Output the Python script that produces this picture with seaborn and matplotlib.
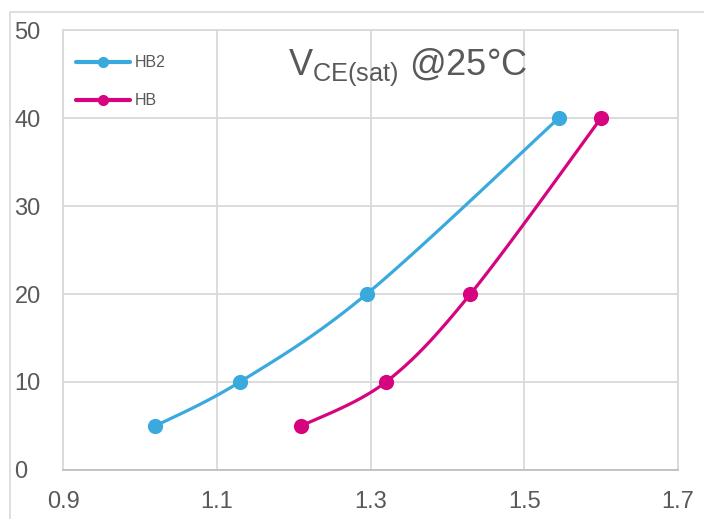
import numpy as np
import pandas as pd
import matplotlib
matplotlib.use("Agg")
import matplotlib.pyplot as plt
from matplotlib.lines import Line2D
from matplotlib.patches import Rectangle
import seaborn as sns

# Collector-emitter saturation voltage (V) vs collector current (A)
hb2_vce = [1.02, 1.13, 1.295, 1.545]
hb2_ic = [5, 10, 20, 40]
hb_vce = [1.21, 1.32, 1.43, 1.60]
hb_ic = [5, 10, 20, 40]
x_ticks = [0.9, 1.1, 1.3, 1.5, 1.7]
y_ticks = [0, 10, 20, 30, 40, 50]

BLUE = "#3AA9DD"
MAGENTA = "#D6047F"
GRID = "#D9D9D9"
TEXT = "#595959"


def smooth_curve(xs, ys, n=40):
    """Catmull-Rom style cubic Bezier through the points (spreadsheet 'smoothed line')."""
    p = np.column_stack([xs, ys]).astype(float)
    ext = np.vstack([p[0], p, p[-1]])
    out = []
    t = np.linspace(0, 1, n)[:, None]
    for i in range(1, len(ext) - 2):
        p0, p1, p2, p3 = ext[i - 1], ext[i], ext[i + 1], ext[i + 2]
        c1 = p1 + (p2 - p0) / 6.0
        c2 = p2 - (p3 - p1) / 6.0
        seg = ((1 - t) ** 3) * p1 + 3 * ((1 - t) ** 2) * t * c1 + 3 * (1 - t) * t ** 2 * c2 + t ** 3 * p2
        out.append(seg if i == 1 else seg[1:])
    s = np.vstack(out)
    return s[:, 0], s[:, 1]


sns.set_theme(style="white")
plt.rcParams["font.family"] = ["Liberation Sans", "DejaVu Sans"]

fig = plt.figure(figsize=(7.04, 5.19), dpi=100)
fig.patches.append(Rectangle((10 / 704, -0.1), 1.2, 1 - 12 / 519 + 0.1,
                             transform=fig.transFigure, fill=False,
                             edgecolor=GRID, linewidth=1.2))
ax = fig.add_axes([63 / 704, 1 - 470 / 519, (678 - 63) / 704, (470 - 30) / 519])

series = [("HB2", hb2_vce, hb2_ic, BLUE), ("HB", hb_vce, hb_ic, MAGENTA)]
for name, xs, ys, col in series:
    sx, sy = smooth_curve(xs, ys)
    curve = pd.DataFrame({"x": sx, "y": sy})
    sns.lineplot(data=curve, x="x", y="y", ax=ax, color=col, linewidth=2.3,
                 sort=False, estimator=None, zorder=3)
    pts = pd.DataFrame({"x": xs, "y": ys})
    sns.scatterplot(data=pts, x="x", y="y", ax=ax, color=col, s=120,
                    edgecolor=col, linewidth=0, zorder=4)

ax.set_xlim(0.9, 1.7)
ax.set_ylim(0, 50)
ax.set_xticks(x_ticks)
ax.set_yticks(y_ticks)
ax.set_xticklabels([f"{v:g}" for v in x_ticks])
ax.set_yticklabels([str(v) for v in y_ticks])
ax.set_xlabel("")
ax.set_ylabel("")
ax.grid(True, color=GRID, linewidth=1.3)
ax.set_axisbelow(True)
for side in ["top", "right", "left"]:
    ax.spines[side].set_color(GRID)
    ax.spines[side].set_linewidth(1.3)
ax.spines["bottom"].set_color("#BFBFBF")
ax.spines["bottom"].set_linewidth(1.3)
ax.tick_params(axis="both", length=0, labelcolor=TEXT, labelsize=17)
ax.tick_params(axis="x", pad=15)
ax.tick_params(axis="y", pad=35)
for lbl in ax.get_yticklabels():
    lbl.set_horizontalalignment("left")

ax.text(0.561, 0.915, r"V$_{\mathregular{CE(sat)}}$ @25°C", transform=ax.transAxes,
        ha="center", va="center", fontsize=26, color=TEXT)

handles = [Line2D([0], [0], color=col, linewidth=3, marker="o", markersize=7)
           for _, _, _, col in series]
ax.legend(handles, [s[0] for s in series], loc="upper left",
          bbox_to_anchor=(0.0, 0.972), frameon=False, fontsize=11.5,
          labelcolor=TEXT, handlelength=3.4, handletextpad=0.3,
          labelspacing=1.45, borderaxespad=0.4)

fig.savefig("out.png", dpi=100)
